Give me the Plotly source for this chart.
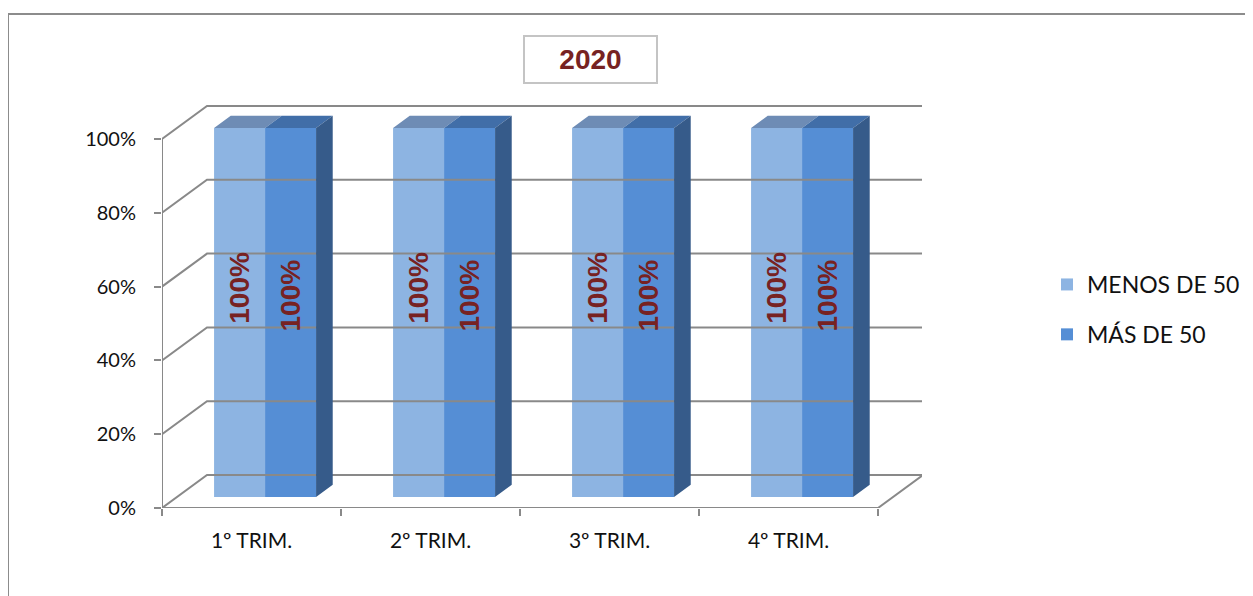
import plotly.graph_objects as go

# ---- data ----
categories = ["1º TRIM.", "2º TRIM.", "3º TRIM.", "4º TRIM."]
series_names = ["MENOS DE 50", "MÁS DE 50"]
menos_de_50 = [1.0, 1.0, 1.0, 1.0]
mas_de_50 = [1.0, 1.0, 1.0, 1.0]
y_ticks = [0, 0.2, 0.4, 0.6, 0.8, 1.0]
title_text = "2020"

# ---- styling / geometry (3D look) ----
W, H = 1253, 596
OFF = 8                                       # page body margin
PL, PR, PT, PB = 162 - OFF, 922 - OFF, 105 - OFF, 508 - OFF   # plot area in px
PX_PER_X = 179.0                              # px per category unit
PX_PER_Y = 369.0                              # px per 100%
DX = 45 / PX_PER_X                            # depth offset (x units)
DY = 33 / PX_PER_Y                            # depth offset (y units)
X0, X1 = -0.5, len(categories) - 0.5
XMAX = X0 + (PR - PL) / PX_PER_X
YMAX = (PB - PT) / PX_PER_Y


def px_x(p):
    return (p - OFF - PL) / (PR - PL)


def px_y(p):
    return (PB - (p - OFF)) / (PB - PT)


FRONT = 1 / 3          # bar front face depth fraction
BDEPTH = 0.37          # bar depth fraction
BW = 51 / PX_PER_X     # bar width
GRID = "#898989"
LIGHT, LIGHT_TOP = "#8DB4E2", "#6E8CB5"
DARK, DARK_TOP, DARK_SIDE = "#558ED5", "#416EA8", "#365B8A"
LABEL_COLOR = "#772222"
TXT_FONT = "Lato, 'Open Sans', sans-serif"

fig = go.Figure()

# walls / grid lines
gx, gy = [], []
for v in y_ticks:
    gx += [X0, X0 + DX, XMAX, None]
    gy += [v, v + DY, v + DY, None]
# floor front edge + right edge, front vertical axis
gx += [X0, X1, X1 + DX, None, X0, X0]
gy += [0, 0, DY, None, 0, y_ticks[-1]]
fig.add_trace(go.Scatter(x=gx, y=gy, mode="lines", line=dict(color=GRID, width=2),
                         hoverinfo="skip", showlegend=False))

fdx, fdy = FRONT * DX, FRONT * DY
bdx, bdy = BDEPTH * DX, BDEPTH * DY
centers = list(range(len(categories)))
series = [(menos_de_50, LIGHT, LIGHT_TOP, -1), (mas_de_50, DARK, DARK_TOP, 1)]

for (vals, col, topcol, side), name in zip(series, series_names):
    xs = [c + fdx + side * BW / 2 - 0.008 for c in centers]
    fig.add_trace(go.Bar(x=xs, y=vals, base=[fdy] * len(vals), width=[BW] * len(vals),
                         marker=dict(color=col, line=dict(width=0)), name=name,
                         legendgroup=name, hoverinfo="skip"))
    # top faces
    tx, ty = [], []
    for xc, v in zip(xs, vals):
        xl, xr, t = xc - BW / 2, xc + BW / 2, fdy + v
        tx += [xl, xr, xr + bdx, xl + bdx, xl, None]
        ty += [t, t, t + bdy, t + bdy, t, None]
    fig.add_trace(go.Scatter(x=tx, y=ty, fill="toself", fillcolor=topcol, mode="lines",
                             line=dict(width=0, color=topcol), hoverinfo="skip",
                             showlegend=False))
    if side == 1:
        sx, sy = [], []
        for xc, v in zip(xs, vals):
            xr, t = xc + BW / 2, fdy + v
            sx += [xr, xr + bdx, xr + bdx, xr, xr, None]
            sy += [fdy, fdy + bdy, t + bdy, t, fdy, None]
        fig.add_trace(go.Scatter(x=sx, y=sy, fill="toself", fillcolor=DARK_SIDE, mode="lines",
                                 line=dict(width=0, color=DARK_SIDE), hoverinfo="skip",
                                 showlegend=False))
    # data labels
    for xc, v in zip(xs, vals):
        fig.add_annotation(x=xc, y=fdy + v * (0.566 if side == -1 else 0.545),
                           text=f"<b>{v:.0%}</b>", textangle=-90, showarrow=False,
                           font=dict(family="Liberation Sans, Arial", size=28, color=LABEL_COLOR))

# title box
fig.add_annotation(xref="paper", yref="paper",
                   x=px_x(590), y=px_y(59.5),
                   text=f"<b>{title_text}</b>", showarrow=False,
                   font=dict(family="Liberation Sans, Arial", size=28, color=LABEL_COLOR),
                   width=131, height=45, bordercolor="#C4C4C4", borderwidth=2, borderpad=0,
                   bgcolor="white", xanchor="center", yanchor="middle")

# chart border
fig.add_shape(type="rect", xref="paper", yref="paper",
              x0=px_x(8), x1=px_x(W + 30), y0=px_y(H + 30), y1=px_y(14),
              line=dict(color="#8C8C8C", width=2), layer="below")

fig.update_layout(
    width=W, height=H, margin=dict(l=PL, r=W - PR, t=PT, b=H - PB, autoexpand=False),
    paper_bgcolor="white", plot_bgcolor="white", barmode="overlay",
    showlegend=True,
    legend=dict(x=px_x(1047), y=px_y(263), bgcolor="rgba(0,0,0,0)",
                xanchor="left", yanchor="top", tracegroupgap=17,
                font=dict(family=TXT_FONT, size=23, color="#111111"), itemwidth=30),
    xaxis=dict(range=[X0, XMAX], tickvals=centers, ticktext=categories, ticks="",
               showgrid=False, zeroline=False, showline=False,
               tickfont=dict(family=TXT_FONT, size=21, color="#111111"),
               ticklabelstandoff=18,
               minor=dict(tickvals=[X0 + i for i in range(len(categories) + 1)],
                          ticks="outside", ticklen=7, tickwidth=2, tickcolor=GRID,
                          showgrid=False)),
    yaxis=dict(range=[0, YMAX], tickvals=y_ticks, tickformat=".0%", ticks="outside",
               ticklen=7, tickwidth=2, tickcolor=GRID, showgrid=False, zeroline=False,
               showline=False, ticklabelstandoff=14,
               tickfont=dict(family=TXT_FONT, size=20, color="#111111")),
)

fig.write_html("out.html")
